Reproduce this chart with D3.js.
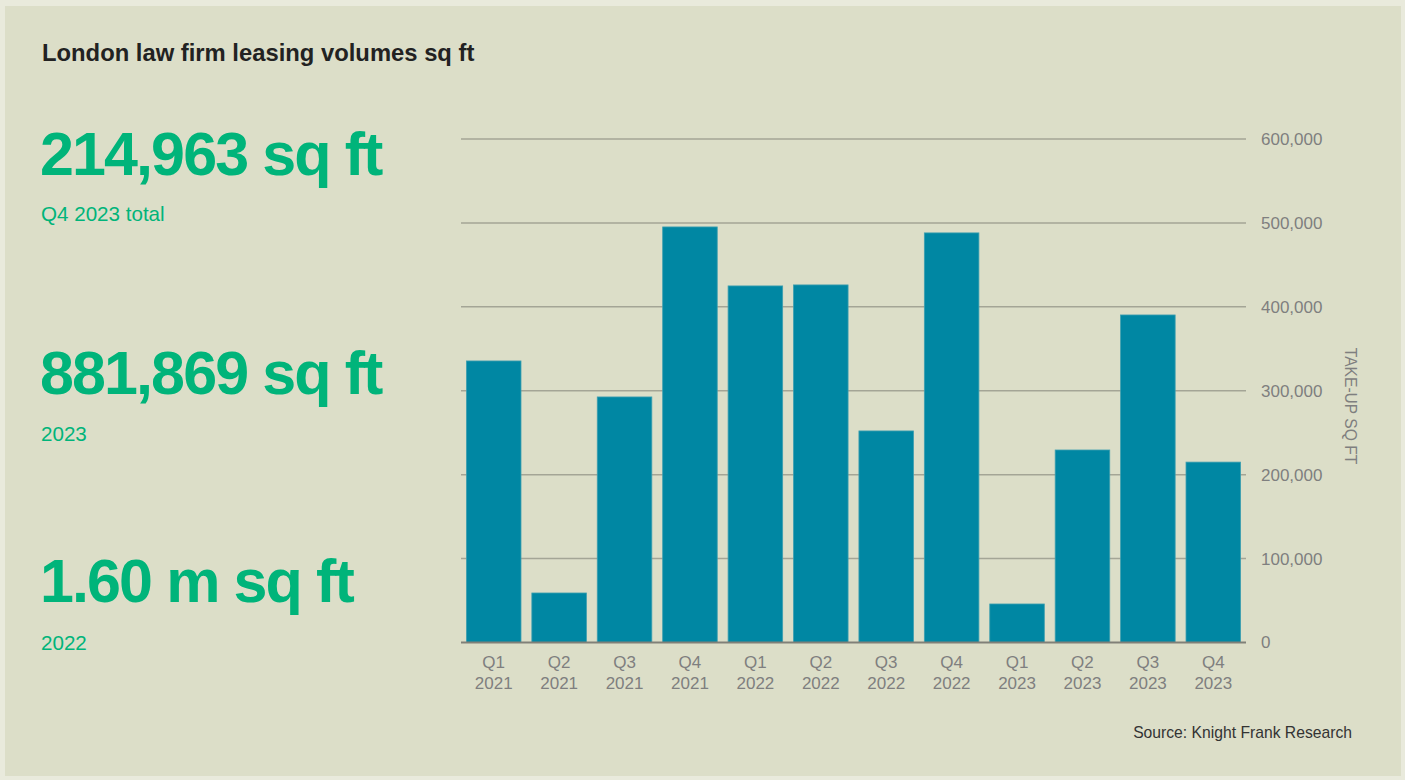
<!DOCTYPE html>
<html lang="en"><head><meta charset="UTF-8">
<title>London law firm leasing volumes</title>
<script src="https://cdn.jsdelivr.net/npm/d3@7"></script>
<style>
  html, body { margin:0; padding:0; background:#e9eadc; }
  svg { display:block; font-family:"Liberation Sans", Arial, sans-serif; }
</style>
</head>
<body>
<div id="chart"></div>
<script>
// data
const quarters = ["Q1","Q2","Q3","Q4","Q1","Q2","Q3","Q4","Q1","Q2","Q3","Q4"];
const years    = ["2021","2021","2021","2021","2022","2022","2022","2022","2023","2023","2023","2023"];
const takeUp   = [335500, 59000, 292600, 495200, 424900, 426100, 252100, 488100, 45900, 229400, 390300, 214963];
const yTicks   = [0, 100000, 200000, 300000, 400000, 500000, 600000];

const headlines = [
  {big: "214,963 sq ft", small: "Q4 2023 total"},
  {big: "881,869 sq ft", small: "2023"},
  {big: "1.60 m sq ft",  small: "2022"}
];

const W = 1405, H = 780;
const svg = d3.select("#chart").append("svg").attr("width", W).attr("height", H);

// panel
svg.append("rect").attr("x",5).attr("y",6).attr("width",1396).attr("height",770).attr("fill","#dcdec8");

svg.append("text").attr("x",42).attr("y",61)
  .attr("font-size",23.8).attr("font-weight","bold").attr("fill","#222")
  .text("London law firm leasing volumes sq ft");

// headline figures
const bigY = [175, 394, 602], smallY = [221, 441, 650];
headlines.forEach(function(h, i){
  svg.append("text").attr("x",40).attr("y",bigY[i])
    .attr("font-size",61).attr("font-weight","bold").attr("fill","#00b47a")
    .attr("letter-spacing","-1.9px")
    .text(h.big);
  svg.append("text").attr("x",41).attr("y",smallY[i])
    .attr("font-size",20.6).attr("fill","#00b47a")
    .text(h.small);
});

// scales
const x = d3.scaleBand().domain(d3.range(takeUp.length)).range([461, 1246])
  .paddingInner(0.166).paddingOuter(0.083);
const y = d3.scaleLinear().domain([0, 600000]).range([642.5, 139]);

// gridlines
svg.append("g").selectAll("line").data(yTicks.filter(d => d > 0)).enter()
  .append("line")
  .attr("x1",461).attr("x2",1246)
  .attr("y1",d => y(d)).attr("y2",d => y(d))
  .attr("stroke","#a4a596").attr("stroke-width",1.5);

// bars
svg.append("g").selectAll("rect").data(takeUp).enter()
  .append("rect")
  .attr("x",(d,i) => x(i))
  .attr("y",d => y(d))
  .attr("width",x.bandwidth())
  .attr("height",d => y(0) - y(d))
  .attr("fill","#0087a3")
  .attr("stroke","#3d9fb0").attr("stroke-width",0.8);

// baseline
svg.append("line").attr("x1",461).attr("x2",1246).attr("y1",y(0)).attr("y2",y(0))
  .attr("stroke","#808078").attr("stroke-width",2);

// y axis on the right
const yAxis = d3.axisRight(y).tickValues(yTicks).tickSize(0).tickPadding(0)
  .tickFormat(d3.format(","));
const ya = svg.append("g").attr("transform","translate(1261,0)").call(yAxis);
ya.select(".domain").remove();
ya.selectAll("text").attr("font-size",17).attr("fill","#7f7f7f")
  .attr("font-family","Liberation Sans, Arial, sans-serif");

svg.append("text")
  .attr("transform","translate(1345,406) rotate(90)")
  .attr("text-anchor","middle").attr("font-size",15.6).attr("fill","#7f7f7f")
  .text("TAKE-UP SQ FT");

// x labels
const xl = svg.append("g").selectAll("g").data(takeUp).enter().append("g")
  .attr("transform",(d,i) => "translate(" + (x(i) + x.bandwidth()/2) + ",0)");
xl.append("text").attr("y",668).attr("text-anchor","middle")
  .attr("font-size",17).attr("fill","#7f7f7f").text((d,i) => quarters[i]);
xl.append("text").attr("y",689).attr("text-anchor","middle")
  .attr("font-size",17).attr("fill","#7f7f7f").text((d,i) => years[i]);

svg.append("text").attr("x",1352).attr("y",738).attr("text-anchor","end")
  .attr("font-size",15.7).attr("fill","#333")
  .text("Source: Knight Frank Research");
</script>
</body></html>
